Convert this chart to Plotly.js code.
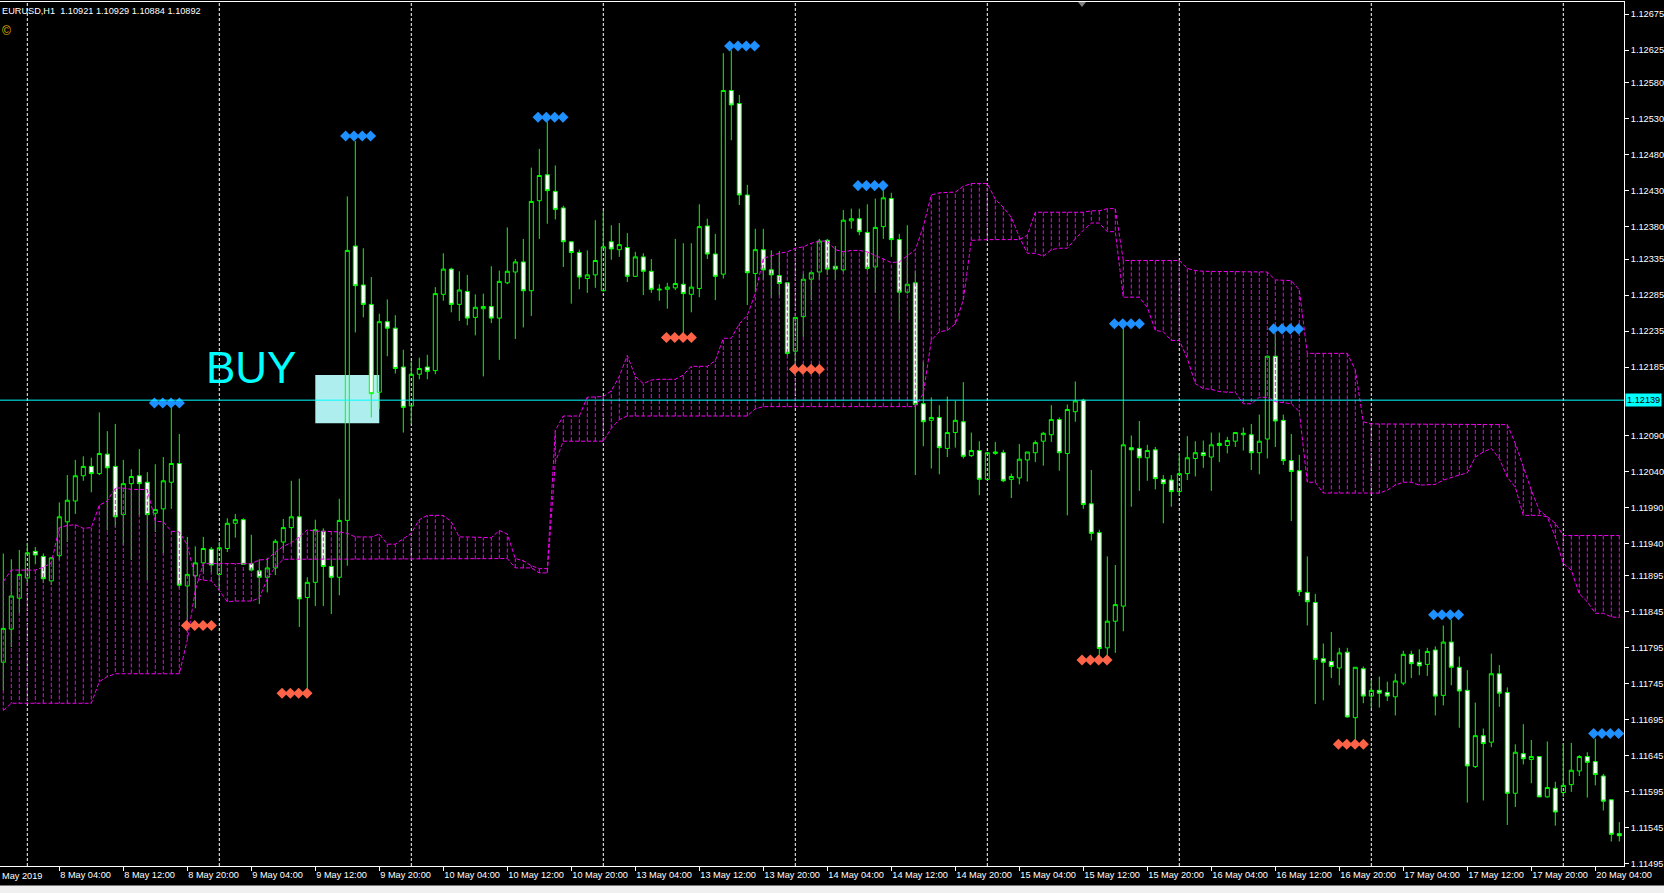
<!DOCTYPE html>
<html>
<head>
<meta charset="utf-8">
<script src="https://cdn.plot.ly/plotly-3.0.1.min.js"></script>
<style>
html,body{margin:0;padding:0;background:#000;overflow:hidden;}
#chart{width:1664px;height:893px;}
</style>
</head>
<body>
<div id="chart"></div>
<script>
const symbolTitle = 'EURUSD,H1  1.10921 1.10929 1.10884 1.10892';

const openPrices = [
1.11775,1.11821,1.11864,1.11892,1.11929,1.11922,1.11888,1.11923,1.11970,1.11999,
1.12034,1.12047,1.12037,1.12064,1.12047,1.11980,1.12023,1.12034,1.12025,1.11982,
1.11988,1.12025,1.12051,1.11881,1.11895,1.11913,1.11932,1.11897,1.11933,1.11968,
1.11973,1.11912,1.11902,1.11893,1.11906,1.11942,1.11962,1.11977,1.11865,1.11886,
1.11957,1.11908,1.11893,1.11972,1.12353,1.12299,1.12272,1.12150,1.12248,1.12239,
1.12185,1.12131,1.12175,1.12185,1.12180,1.12286,1.12321,1.12272,1.12290,1.12254,
1.12266,1.12269,1.12253,1.12302,1.12317,1.12331,1.12291,1.12416,1.12452,1.12429,
1.12406,1.12359,1.12344,1.12308,1.12313,1.12291,1.12359,1.12348,1.12351,1.12311,
1.12338,1.12318,1.12292,1.12293,1.12295,1.12300,1.12286,1.12294,1.12381,1.12342,
1.12314,1.12569,1.12551,1.12424,1.12315,1.12348,1.12320,1.12312,1.12302,1.12207,
1.12255,1.12307,1.12317,1.12361,1.12325,1.12320,1.12388,1.12391,1.12372,1.12324,
1.12380,1.12419,1.12362,1.12289,1.12302,1.12134,1.12111,1.12115,1.12072,1.12094,
1.12109,1.12062,1.12069,1.12029,1.12065,1.12066,1.12029,1.12031,1.12056,1.12066,
1.12082,1.12091,1.12112,1.12065,1.12123,1.12139,1.11995,1.11955,1.11795,1.11832,
1.11853,1.12073,1.12072,1.12059,1.12070,1.12029,1.12028,1.12012,1.12037,1.12058,
1.12066,1.12060,1.12079,1.12076,1.12082,1.12091,1.12091,1.12066,1.12085,1.12200,
1.12111,1.12055,1.12041,1.11872,1.11858,1.11780,1.11776,1.11767,1.11789,1.11698,
1.11766,1.11728,1.11736,1.11733,1.11727,1.11746,1.11786,1.11775,1.11772,1.11792,
1.11729,1.11803,1.11768,1.11736,1.11630,1.11673,1.11664,1.11759,1.11733,1.11593,
1.11648,1.11640,1.11644,1.11588,1.11600,1.11594,1.11605,1.11624,1.11644,1.11637,
1.11617,1.11584,1.11537
];
const highPrices = [
1.11926,1.11918,1.11931,1.11941,1.11935,1.11926,1.11921,1.11997,1.12035,1.12056,
1.12061,1.12059,1.12122,1.12096,1.12106,1.12056,1.12043,1.12071,1.12039,1.12050,
1.12060,1.12132,1.12092,1.11949,1.11936,1.11949,1.11935,1.11942,1.11975,1.11981,
1.11975,1.11952,1.11918,1.11920,1.11946,1.11974,1.12027,1.12030,1.11893,1.11973,
1.11961,1.11918,1.12002,1.12422,1.12499,1.12350,1.12310,1.12259,1.12279,1.12257,
1.12209,1.12193,1.12198,1.12202,1.12296,1.12343,1.12323,1.12318,1.12313,1.12286,
1.12287,1.12325,1.12319,1.12379,1.12335,1.12363,1.12462,1.12488,1.12526,1.12465,
1.12409,1.12360,1.12348,1.12347,1.12389,1.12402,1.12382,1.12385,1.12371,1.12345,
1.12343,1.12335,1.12300,1.12302,1.12363,1.12357,1.12357,1.12411,1.12391,1.12370,
1.12621,1.12625,1.12563,1.12438,1.12377,1.12377,1.12347,1.12346,1.12303,1.12254,
1.12315,1.12319,1.12363,1.12363,1.12353,1.12403,1.12405,1.12405,1.12411,1.12419,
1.12435,1.12427,1.12370,1.12382,1.12319,1.12192,1.12143,1.12132,1.12144,1.12138,
1.12164,1.12094,1.12082,1.12067,1.12081,1.12070,1.12037,1.12078,1.12067,1.12083,
1.12095,1.12132,1.12115,1.12133,1.12165,1.12141,1.12042,1.11959,1.11922,1.11910,
1.12241,1.12090,1.12110,1.12077,1.12074,1.12035,1.12035,1.12065,1.12089,1.12082,
1.12083,1.12094,1.12094,1.12088,1.12094,1.12101,1.12106,1.12119,1.12201,1.12232,
1.12119,1.12092,1.12063,1.11922,1.11870,1.11801,1.11817,1.11795,1.11795,1.11768,
1.11769,1.11750,1.11755,1.11748,1.11759,1.11791,1.11791,1.11793,1.11795,1.11797,
1.11826,1.11834,1.11783,1.11764,1.11719,1.11683,1.11787,1.11771,1.11740,1.11661,
1.11689,1.11667,1.11644,1.11665,1.11609,1.11662,1.11663,1.11646,1.11650,1.11669,
1.11620,1.11584,1.11553
];
const lowPrices = [
1.11736,1.11796,1.11843,1.11885,1.11911,1.11885,1.11882,1.11917,1.11942,1.11981,
1.12027,1.12011,1.12035,1.11958,1.11963,1.11938,1.11917,1.11979,1.11889,1.11956,
1.11926,1.11988,1.11878,1.11831,1.11850,1.11900,1.11900,1.11875,1.11928,1.11948,
1.11910,1.11901,1.11856,1.11872,1.11896,1.11931,1.11939,1.11824,1.11737,1.11853,
1.11853,1.11842,1.11868,1.11909,1.12233,1.12254,1.12115,1.12127,1.12200,1.12176,
1.12094,1.12106,1.12168,1.12168,1.12175,1.12277,1.12261,1.12249,1.12243,1.12229,
1.12172,1.12246,1.12195,1.12300,1.12224,1.12240,1.12256,1.12363,1.12384,1.12390,
1.12324,1.12273,1.12293,1.12288,1.12295,1.12290,1.12334,1.12338,1.12303,1.12310,
1.12285,1.12288,1.12277,1.12266,1.12292,1.12231,1.12261,1.12282,1.12335,1.12278,
1.12308,1.12500,1.12410,1.12271,1.12289,1.12306,1.12281,1.12285,1.12201,1.12190,
1.12227,1.12278,1.12306,1.12313,1.12306,1.12317,1.12377,1.12368,1.12319,1.12288,
1.12363,1.12338,1.12247,1.12287,1.12035,1.12075,1.12044,1.12036,1.12060,1.12073,
1.12058,1.12060,1.12007,1.12028,1.12063,1.12025,1.12003,1.12022,1.12026,1.12053,
1.12048,1.12081,1.12041,1.11979,1.12109,1.11988,1.11944,1.11782,1.11782,1.11788,
1.11818,1.11991,1.12013,1.12027,1.12015,1.11968,1.11991,1.12007,1.12028,1.12033,
1.12045,1.12013,1.12053,1.12065,1.12074,1.12069,1.12042,1.12036,1.12058,1.12074,
1.12049,1.11971,1.11867,1.11826,1.11717,1.11722,1.11753,1.11743,1.11698,1.11667,
1.11718,1.11711,1.11712,1.11721,1.11701,1.11743,1.11753,1.11757,1.11756,1.11701,
1.11715,1.11743,1.11684,1.11580,1.11628,1.11583,1.11657,1.11713,1.11549,1.11574,
1.11633,1.11607,1.11588,1.11587,1.11548,1.11588,1.11595,1.11617,1.11587,1.11604,
1.11569,1.11526,1.11526
];
const closePrices = [
1.11822,1.11867,1.11897,1.11927,1.11924,1.11891,1.11920,1.11977,1.12000,1.12034,
1.12047,1.12037,1.12065,1.12045,1.11977,1.12023,1.12033,1.12023,1.11980,1.11987,
1.12027,1.12051,1.11882,1.11897,1.11913,1.11933,1.11910,1.11934,1.11968,1.11973,
1.11911,1.11903,1.11893,1.11906,1.11943,1.11962,1.11977,1.11863,1.11886,1.11959,
1.11908,1.11893,1.11972,1.12347,1.12298,1.12272,1.12148,1.12248,1.12239,1.12183,
1.12129,1.12175,1.12183,1.12179,1.12287,1.12321,1.12272,1.12292,1.12253,1.12268,
1.12269,1.12253,1.12304,1.12318,1.12331,1.12291,1.12415,1.12451,1.12430,1.12404,
1.12359,1.12344,1.12310,1.12313,1.12333,1.12352,1.12349,1.12355,1.12311,1.12338,
1.12318,1.12293,1.12293,1.12296,1.12301,1.12287,1.12296,1.12380,1.12342,1.12311,
1.12569,1.12549,1.12424,1.12316,1.12348,1.12320,1.12313,1.12301,1.12204,1.12254,
1.12307,1.12316,1.12360,1.12321,1.12321,1.12389,1.12391,1.12373,1.12322,1.12379,
1.12420,1.12362,1.12289,1.12300,1.12133,1.12109,1.12115,1.12073,1.12094,1.12111,
1.12061,1.12069,1.12029,1.12066,1.12067,1.12027,1.12033,1.12057,1.12067,1.12080,
1.12093,1.12112,1.12066,1.12126,1.12138,1.11994,1.11954,1.11794,1.11832,1.11855,
1.12077,1.12070,1.12059,1.12069,1.12030,1.12023,1.12012,1.12037,1.12059,1.12066,
1.12062,1.12077,1.12076,1.12083,1.12094,1.12093,1.12066,1.12082,1.12200,1.12110,
1.12055,1.12040,1.11873,1.11859,1.11779,1.11775,1.11769,1.11788,1.11699,1.11768,
1.11728,1.11736,1.11732,1.11728,1.11749,1.11786,1.11773,1.11770,1.11790,1.11728,
1.11803,1.11768,1.11735,1.11631,1.11673,1.11662,1.11759,1.11732,1.11593,1.11650,
1.11641,1.11644,1.11588,1.11601,1.11567,1.11604,1.11625,1.11644,1.11636,1.11619,
1.11582,1.11536,1.11534
];

// Ichimoku cloud boundaries (Senkou spans)
const senkouA = [
1.11887,1.11903,1.11903,1.11903,1.11903,1.11907,1.11913,1.11962,1.11965,1.11966,
1.11961,1.11962,1.11993,1.11999,1.12017,1.12017,1.12015,1.12015,1.12015,1.11971,
1.11970,1.11957,1.11956,1.11938,1.11892,1.11889,1.11888,1.11875,1.11859,1.11860,
1.11860,1.11860,1.11864,1.11891,1.11907,1.11918,1.11918,1.11918,1.11918,1.11918,
1.11918,1.11918,1.11918,1.11918,1.11918,1.11918,1.11918,1.11918,1.11918,1.11918,
1.11918,1.11918,1.11918,1.11918,1.11918,1.11918,1.11918,1.11918,1.11918,1.11918,
1.11919,1.11919,1.11919,1.11919,1.11906,1.11906,1.11906,1.11899,1.11899,1.12053,
1.12082,1.12082,1.12082,1.12082,1.12082,1.12082,1.12100,1.12112,1.12117,1.12117,
1.12117,1.12117,1.12117,1.12117,1.12117,1.12117,1.12117,1.12117,1.12117,1.12117,
1.12117,1.12117,1.12117,1.12117,1.12127,1.12130,1.12130,1.12130,1.12130,1.12130,
1.12130,1.12130,1.12130,1.12130,1.12130,1.12130,1.12130,1.12130,1.12130,1.12130,
1.12130,1.12130,1.12130,1.12130,1.12130,1.12148,1.12222,1.12234,1.12236,1.12245,
1.12278,1.12361,1.12362,1.12362,1.12362,1.12362,1.12362,1.12362,1.12368,1.12400,
1.12400,1.12400,1.12400,1.12400,1.12400,1.12400,1.12402,1.12402,1.12405,1.12405,
1.12333,1.12333,1.12333,1.12333,1.12333,1.12333,1.12333,1.12333,1.12322,1.12319,
1.12318,1.12318,1.12318,1.12318,1.12318,1.12317,1.12317,1.12317,1.12317,1.12306,
1.12305,1.12305,1.12292,1.12204,1.12204,1.12204,1.12204,1.12204,1.12204,1.12181,
1.12109,1.12106,1.12106,1.12106,1.12106,1.12106,1.12106,1.12106,1.12106,1.12106,
1.12106,1.12106,1.12106,1.12106,1.12106,1.12106,1.12106,1.12106,1.12105,1.12079,
1.12046,1.12014,1.11986,1.11977,1.11968,1.11951,1.11951,1.11951,1.11951,1.11951,
1.11951,1.11951,1.11951
];
const senkouB = [
1.11708,1.11718,1.11718,1.11718,1.11718,1.11718,1.11718,1.11718,1.11718,1.11718,
1.11718,1.11718,1.11748,1.11755,1.11759,1.11759,1.11759,1.11759,1.11759,1.11759,
1.11759,1.11759,1.11759,1.11806,1.11875,1.11912,1.11912,1.11912,1.11912,1.11912,
1.11912,1.11912,1.11917,1.11918,1.11928,1.11936,1.11941,1.11949,1.11959,1.11957,
1.11957,1.11957,1.11956,1.11954,1.11949,1.11949,1.11949,1.11953,1.11939,1.11939,
1.11946,1.11954,1.11973,1.11979,1.11979,1.11979,1.11970,1.11949,1.11949,1.11949,
1.11948,1.11948,1.11958,1.11953,1.11919,1.11916,1.11909,1.11905,1.11905,1.12097,
1.12117,1.12117,1.12117,1.12143,1.12144,1.12144,1.12152,1.12172,1.12201,1.12172,
1.12162,1.12167,1.12168,1.12168,1.12168,1.12174,1.12186,1.12186,1.12186,1.12194,
1.12225,1.12225,1.12245,1.12257,1.12287,1.12336,1.12340,1.12343,1.12345,1.12350,
1.12352,1.12357,1.12360,1.12360,1.12348,1.12345,1.12347,1.12347,1.12345,1.12340,
1.12336,1.12330,1.12331,1.12340,1.12348,1.12380,1.12424,1.12427,1.12427,1.12428,
1.12436,1.12440,1.12440,1.12440,1.12418,1.12407,1.12393,1.12366,1.12343,1.12343,
1.12339,1.12348,1.12350,1.12350,1.12363,1.12375,1.12385,1.12385,1.12373,1.12373,
1.12282,1.12282,1.12282,1.12268,1.12236,1.12234,1.12222,1.12222,1.12197,1.12162,
1.12155,1.12154,1.12151,1.12150,1.12150,1.12134,1.12134,1.12143,1.12143,1.12137,
1.12135,1.12134,1.12123,1.12025,1.12025,1.12010,1.12010,1.12010,1.12010,1.12010,
1.12010,1.12010,1.12010,1.12014,1.12021,1.12025,1.12025,1.12021,1.12021,1.12022,
1.12028,1.12032,1.12035,1.12038,1.12060,1.12067,1.12072,1.12058,1.12032,1.12018,
1.11979,1.11979,1.11979,1.11977,1.11949,1.11912,1.11903,1.11870,1.11859,1.11843,
1.11843,1.11838,1.11837
];

// Signal groups (centre bar of the four diamonds, price)
const upSignalBars   = [20.45, 44.35, 68.4, 92.35, 108.4, 140.45, 160.35, 180.35, 200.35];
const upSignalPrices = [1.12135, 1.12506, 1.12532, 1.12631, 1.12437, 1.12245, 1.12238, 1.11841, 1.11676];
const downSignalBars   = [24.45, 36.4, 84.45, 100.45, 136.4, 168.45];
const downSignalPrices = [1.11826, 1.11732, 1.12226, 1.12182, 1.11778, 1.11661];

// Objects
const buyLevel = 1.12139;
const buyLevelText = '1.12139';
const buyText = 'BUY';
const buyTextBar = 25.1;
const buyTextPrice = 1.12185;
const buyBoxBars = [39, 47];
const buyBoxPrices = [1.12107, 1.12174];

// Axes
const timeLabels = ['8 May 04:00','8 May 12:00','8 May 20:00','9 May 04:00','9 May 12:00','9 May 20:00',
  '10 May 04:00','10 May 12:00','10 May 20:00','13 May 04:00','13 May 12:00','13 May 20:00',
  '14 May 04:00','14 May 12:00','14 May 20:00','15 May 04:00','15 May 12:00','15 May 20:00',
  '16 May 04:00','16 May 12:00','16 May 20:00','17 May 04:00','17 May 12:00','17 May 20:00','20 May 04:00'];
const firstTimeLabel = 'May 2019';
const firstLabelBar = 7, labelStepBars = 8;
const daySeparatorBars = [3, 27, 51, 75, 99, 123, 147, 171, 195];
const priceTickLabels = ['1.12675','1.12625','1.12580','1.12530','1.12480','1.12430','1.12380','1.12335',
  '1.12285','1.12235','1.12185','1.12090','1.12040','1.11990','1.11940','1.11895','1.11845','1.11795',
  '1.11745','1.11695','1.11645','1.11595','1.11545','1.11495'];

const FONT = 'Liberation Sans, Arial, sans-serif';
const candleGreen = '#00FF00';
const cloudColor = '#F000F0';
const aqua = '#00FFFF';

const barIndex = openPrices.map((_, i) => i);

const candles = {
  type: 'candlestick', x: barIndex,
  open: openPrices, high: highPrices, low: lowPrices, close: closePrices,
  increasing: {line: {color: candleGreen, width: 1}, fillcolor: 'rgba(0,0,0,0)'},
  decreasing: {line: {color: candleGreen, width: 1}, fillcolor: '#FFFFFF'},
  whiskerwidth: 0, hoverinfo: 'skip', showlegend: false
};

const hx = [], hy = [];
barIndex.forEach(i => { hx.push(i, i, null); hy.push(senkouA[i], senkouB[i], null); });
const cloudHatch = {type: 'scatter', mode: 'lines', x: hx, y: hy,
  line: {color: cloudColor, width: 1, dash: '4px,2px'}, hoverinfo: 'skip', showlegend: false};
const spanA = {type: 'scatter', mode: 'lines', x: barIndex, y: senkouA,
  line: {color: cloudColor, width: 1, dash: '4px,2px'}, hoverinfo: 'skip', showlegend: false};
const spanB = {type: 'scatter', mode: 'lines', x: barIndex, y: senkouB,
  line: {color: cloudColor, width: 1, dash: '4px,2px'}, hoverinfo: 'skip', showlegend: false};

const diamondOffsets = [-1.5, -0.5, 0.5, 1.5];
const diamondStep = 1.04;
function diamonds(centers, prices, color) {
  const x = [], y = [];
  centers.forEach((c, k) => diamondOffsets.forEach(o => { x.push(c + o * diamondStep); y.push(prices[k]); }));
  return {type: 'scatter', mode: 'markers', x, y,
    marker: {symbol: 'diamond', size: 8.5, color, line: {width: 0}}, hoverinfo: 'skip', showlegend: false};
}
const upDiamonds = diamonds(upSignalBars, upSignalPrices, '#1E90FF');
const downDiamonds = diamonds(downSignalBars, downSignalPrices, '#FF6347');

const shapes = [];
daySeparatorBars.forEach(b => shapes.push({type: 'line', xref: 'x', yref: 'paper', x0: b, x1: b, y0: 0, y1: 1,
  line: {color: '#FFFFFF', width: 1, dash: '3px,2px'}, layer: 'below'}));
shapes.push({type: 'rect', xref: 'x', yref: 'y', x0: buyBoxBars[0], x1: buyBoxBars[1],
  y0: buyBoxPrices[0], y1: buyBoxPrices[1], fillcolor: '#AFEEEE', line: {width: 0}, layer: 'below'});
shapes.push({type: 'line', xref: 'paper', yref: 'y', x0: 0, x1: 1, y0: buyLevel, y1: buyLevel,
  line: {color: aqua, width: 1}, layer: 'above'});
shapes.push({type: 'rect', xref: 'paper', yref: 'paper', x0: -0.01, x1: 1.03, y0: -0.0225, y1: -0.04,
  fillcolor: '#F0F0F0', line: {width: 0}});
shapes.push({type: 'path', xref: 'paper', yref: 'paper', path: 'M 0.6638 1 L 0.6687 1 L 0.66625 0.9942 Z',
  fillcolor: '#808080', line: {width: 0}});

const annotations = [
  {xref: 'paper', yref: 'paper', x: 0, y: 0.9899, xanchor: 'left', yanchor: 'middle', showarrow: false,
    text: symbolTitle, font: {family: FONT, size: 9.2, color: '#FFFFFF'}},
  {xref: 'paper', yref: 'paper', x: 0, y: 0.9665, xanchor: 'left', yanchor: 'middle', showarrow: false,
    text: '©', font: {family: FONT, size: 12, color: '#E8B800'}},
  {xref: 'x', yref: 'y', x: buyTextBar, y: buyTextPrice, xanchor: 'left', yanchor: 'middle', showarrow: false,
    text: buyText, font: {family: FONT, size: 44, color: aqua}},
  {xref: 'paper', yref: 'y', x: 1, y: buyLevel, xanchor: 'left', yanchor: 'middle', xshift: 1, showarrow: false,
    text: buyLevelText, bgcolor: aqua, borderpad: 1, font: {family: FONT, size: 9.2, color: '#000000'}},
  {xref: 'paper', yref: 'paper', x: 0, y: -0.0118, xanchor: 'left', yanchor: 'middle', showarrow: false,
    text: firstTimeLabel, font: {family: FONT, size: 9.2, color: '#FFFFFF'}}
];

const layout = {
  width: 1664, height: 893,
  margin: {l: 0, r: 40, t: 2, b: 27, pad: 0},
  paper_bgcolor: '#000000', plot_bgcolor: '#000000',
  showlegend: false, hovermode: false, dragmode: false,
  boxgap: 0.5, boxgroupgap: 0,
  font: {family: FONT, color: '#FFFFFF', size: 9.2},
  xaxis: {
    type: 'linear', range: [-0.4125, 202.5875], showgrid: false, zeroline: false,
    showline: true, linecolor: '#FFFFFF', linewidth: 1, mirror: true,
    ticks: 'outside', ticklen: 4, tickcolor: '#FFFFFF', tickwidth: 1,
    tickvals: timeLabels.map((_, i) => firstLabelBar + i * labelStepBars), ticktext: timeLabels,
    ticklabelposition: 'outside right', tickangle: 0,
    tickfont: {family: FONT, size: 9.2, color: '#FFFFFF'},
    rangeslider: {visible: false}, fixedrange: true, automargin: false
  },
  yaxis: {
    side: 'right', range: [1.11492, 1.12692], showgrid: false, zeroline: false,
    showline: true, linecolor: '#FFFFFF', linewidth: 1,
    ticks: 'outside', ticklen: 4, tickcolor: '#FFFFFF', tickwidth: 1,
    tickvals: priceTickLabels.map(Number), ticktext: priceTickLabels,
    tickfont: {family: FONT, size: 9.2, color: '#FFFFFF'},
    fixedrange: true, automargin: false
  },
  shapes, annotations
};

Plotly.newPlot('chart', [candles, cloudHatch, spanA, spanB, upDiamonds, downDiamonds], layout,
  {displayModeBar: false, staticPlot: true});
</script>
</body>
</html>
